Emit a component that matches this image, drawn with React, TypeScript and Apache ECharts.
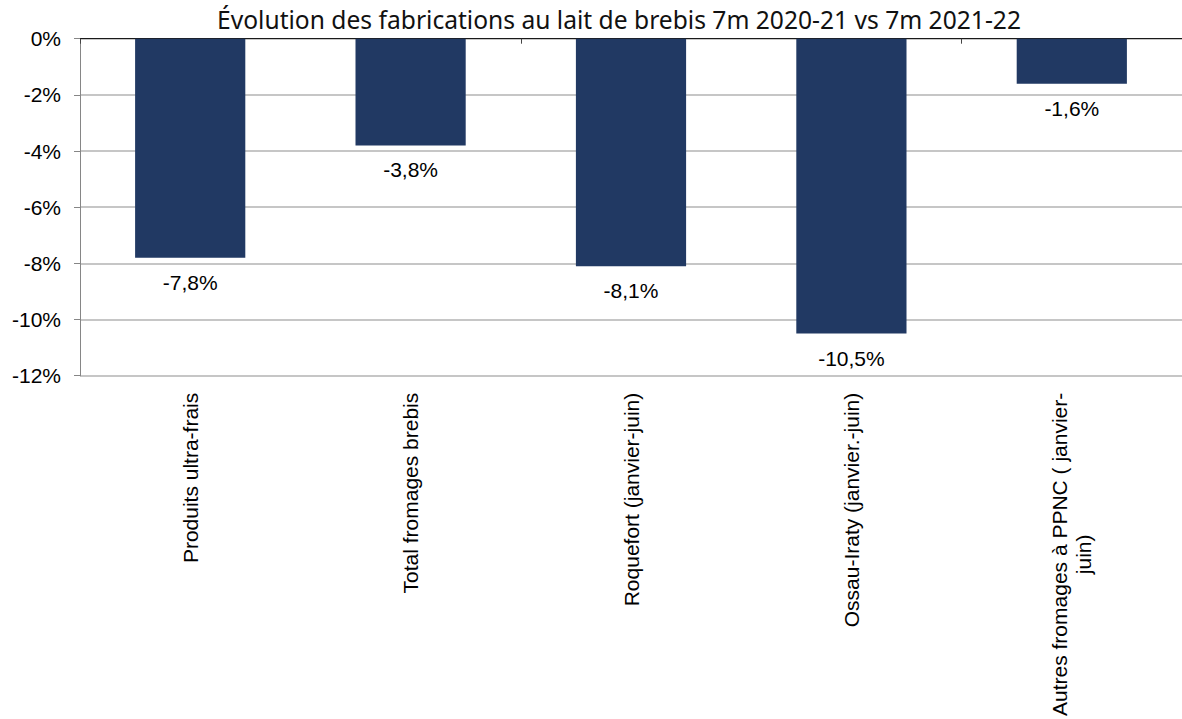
import React, { useEffect, useRef } from "react";
import * as echarts from "echarts";

const titleText = "Évolution des fabrications au lait de brebis 7m 2020-21 vs 7m 2021-22";
const categories = [
  "Produits ultra-frais",
  "Total fromages brebis",
  "Roquefort (janvier-juin)",
  "Ossau-Iraty (janvier.-juin)",
  "Autres fromages à PPNC ( janvier-\njuin)",
];
const values = [-7.8, -3.8, -8.1, -10.5, -1.6];
const yTicks = { min: -12, max: 0, interval: 2 };

const fmtPct = (v: number) => (Number.isInteger(v) ? String(v) : v.toFixed(1).replace(".", ",")) + "%";

export default function App() {
  const ref = useRef<HTMLDivElement>(null);
  useEffect(() => {
    if (!ref.current) return;
    const chart = echarts.init(ref.current, null, { renderer: "svg" });
    const labelFont = "'Liberation Sans', Arial, sans-serif";
    chart.setOption({
      animation: false,
      backgroundColor: "#ffffff",
      title: {
        text: titleText,
        left: 614,
        top: 2,
        textAlign: "center",
        textStyle: {
          fontFamily: "'Noto Sans', sans-serif",
          fontWeight: "normal",
          fontSize: 24.6,
          color: "#111111",
        },
      },
      grid: { left: 80, right: -6, top: 38.7, bottom: 342.3, containLabel: false },
      xAxis: [
        {
          type: "category",
          data: categories,
          position: "bottom",
          axisLine: { show: false, onZero: false },
          axisTick: { show: false },
          axisLabel: {
            rotate: 90,
            margin: 17,
            fontFamily: labelFont,
            fontSize: 21,
            color: "#000000",
            lineHeight: 24,
            interval: 0,
            formatter: (v: string) => {
              if (v.indexOf("\n") >= 0) {
                const parts = v.split("\n");
                return parts[0] + "\n{c|" + parts[1] + "}";
              }
              return v;
            },
            rich: {
              c: {
                width: 314,
                align: "center",
                fontFamily: labelFont,
                fontSize: 21,
                color: "#000000",
                lineHeight: 24,
              },
            },
          },
        },
        {
          type: "category",
          data: categories,
          position: "top",
          axisLine: { show: true, onZero: false, lineStyle: { color: "#1a1a1a", width: 1 } },
          axisTick: { show: true, inside: true, length: 5, lineStyle: { color: "#444444" } },
          axisLabel: { show: false },
        },
      ],
      yAxis: {
        type: "value",
        min: yTicks.min,
        max: yTicks.max,
        interval: yTicks.interval,
        axisLine: { show: true, lineStyle: { color: "#868686", width: 1 } },
        axisTick: { show: true, length: 6, lineStyle: { color: "#868686" } },
        axisLabel: {
          margin: 19,
          fontFamily: labelFont,
          fontSize: 21,
          color: "#000000",
          formatter: (v: number) => fmtPct(v),
        },
        splitLine: { show: true, lineStyle: { color: "#c6c6c6", width: 2 } },
      },
      series: [
        {
          type: "bar",
          data: values,
          barWidth: "50%",
          itemStyle: { color: "#213963" },
          label: {
            show: true,
            position: "bottom",
            distance: 14,
            fontFamily: labelFont,
            fontSize: 21,
            color: "#000000",
            formatter: (p: any) => fmtPct(p.value),
          },
        },
      ],
    });
    return () => chart.dispose();
  }, []);
  return (
    <div
      ref={ref}
      style={{ position: "absolute", left: 0, top: 0, width: 1182, height: 719 }}
    />
  );
}
